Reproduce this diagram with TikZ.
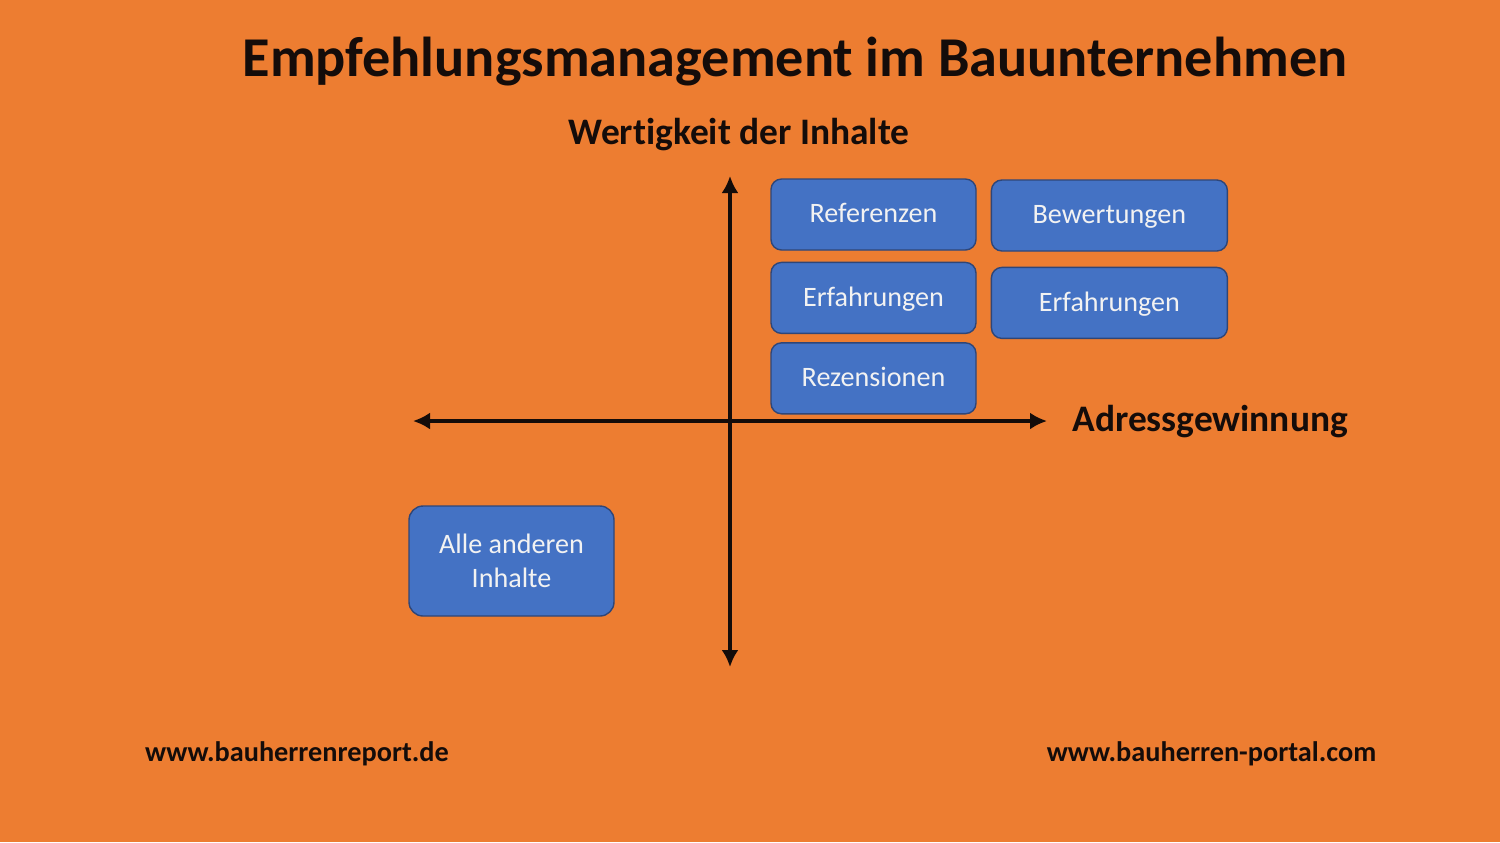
\documentclass[tikz,border=0pt]{standalone}
\usepackage{fontspec}
\setmainfont[Ligatures=NoCommon]{Carlito}
\usepackage{tikz}
\usetikzlibrary{positioning,arrows.meta}
\definecolor{bgorange}{RGB}{237, 125, 49}
\definecolor{boxblue}{RGB}{68, 114, 196}
\definecolor{boxedge}{RGB}{47, 70, 120}
\definecolor{inkdark}{RGB}{20, 12, 10}

\begin{document}
\begin{tikzpicture}[
    box/.style={draw=boxedge, rounded corners=3pt, thin, align=center, fill=boxblue,
        text=white!95!black, font=\fontsize{8}{9.6}\selectfont,
        minimum height=0.71cm, minimum width=2.05cm},
    sbox/.style={box, text height=1.5ex, text depth=0.5ex},
    wbox/.style={sbox, minimum width=2.36cm},
    axis/.style={{Latex[length=1.7mm,width=1.7mm]}-{Latex[length=1.7mm,width=1.7mm]},
        line width=0.9pt, draw=inkdark},
    heading/.style={font=\bfseries\fontsize{10.65}{12}\selectfont, text=inkdark},
    url/.style={font=\bfseries\fontsize{8.05}{9}\selectfont, text=inkdark}
]
\fill[bgorange] (0,0) rectangle (15,-8.42);
% title and axis labels
\node[font=\bfseries\fontsize{16}{18}\selectfont, text=inkdark] (title) at (7.95,-0.62) {Empfehlungsmanagement im Bauunternehmen};
\node[heading] (ylabel) at (7.39,-1.35) {Wertigkeit der Inhalte};
\node[heading, anchor=west] (xlabel) at (10.60,-4.22) {Adressgewinnung};
% axes
\coordinate (top) at (7.30,-1.76);
\coordinate (bottom) at (7.30,-6.67);
\coordinate (left) at (4.13,-4.21);
\coordinate (right) at (10.47,-4.21);
\draw[axis] (bottom) -- (top);
\draw[axis] (left) -- (right);
% boxes
\node[sbox] (ref) at (8.735,-2.145) {Referenzen};
\node[sbox, below=0.11cm of ref] (erfl) {Erfahrungen};
\node[sbox, below=0.08cm of erfl] (rez) {Rezensionen};
\node[wbox, right=0.14cm of ref, yshift=-0.01cm] (bew) {Bewertungen};
\node[wbox, below=0.15cm of bew] (erfr) {Erfahrungen};
\node[box, minimum height=1.10cm, rounded corners=4pt] (rest) at (5.115,-5.61) {Alle anderen\\Inhalte};
% footer
\node[url] (urlleft) at (2.97,-7.54) {www.bauherrenreport.de};
\node[url] (urlright) at (12.115,-7.54) {www.bauherren-portal.com};
\end{tikzpicture}
\end{document}
